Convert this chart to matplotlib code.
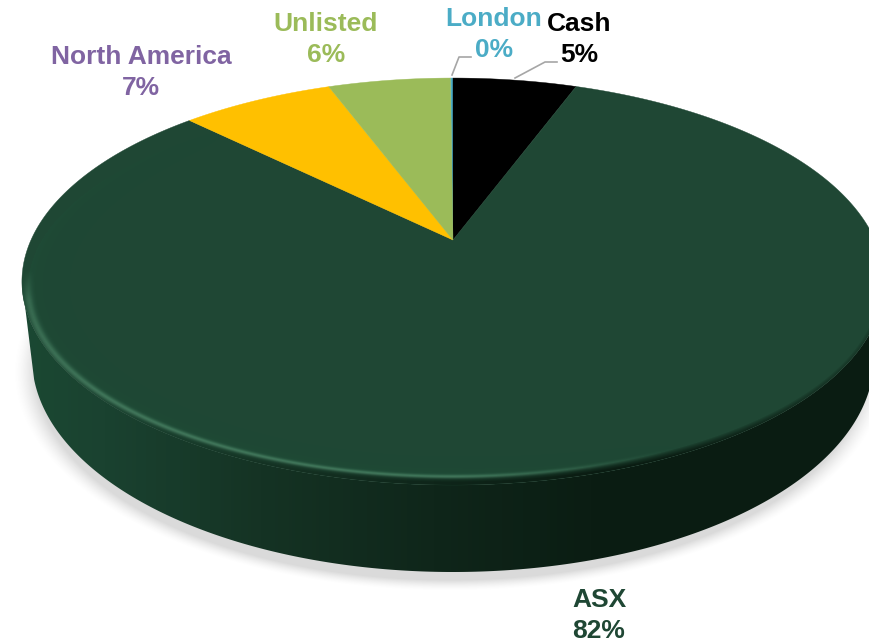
"""Perspective 3D pie of holdings by listing venue. Axes are in image pixels."""
import numpy as np
import matplotlib
matplotlib.use("Agg")
from matplotlib import pyplot as plt
from matplotlib.colors import LinearSegmentedColormap
from matplotlib.patches import Polygon

# clockwise from 12 o'clock
names = ["London", "Cash", "ASX", "North America", "Unlisted"]
shares = [0.12, 5.65, 81.7, 6.95, 5.58]
pct_labels = ["0%", "5%", "82%", "7%", "6%"]
wedge_colors = ["#4BACC6", "#000000", "#1F4734", "#FFC000", "#9BBB59"]
label_colors = ["#4BACC6", "#000000", "#1F4734", "#8064A2", "#9BBB59"]
label_xy = [(494, 19), (579, 24), (599, 600), (141, 57), (326, 24)]

W, H = 869, 644
APEX_X, APEX_Y = 453, 240
P_X, P_Y, K = 422, 195, 0.204      # perspective of the top face
START = -0.0012                    # London sliver sits just left of 12 o'clock
TOP_C, TOP_A, TOP_B = (453, 281.5), 431, 203.5
BOT_C, BOT_A, BOT_B = (453, 358), 421, 214


def project(x, y):
    return APEX_X + P_X * x / (1 + K * y), APEX_Y - P_Y * y / (1 + K * y)


def ellipse(c, a, b, t):
    return c[0] + a * np.cos(t), c[1] + b * np.sin(t)


fig = plt.figure(figsize=(W / 100, H / 100), dpi=100)
ax = fig.add_axes([0, 0, 1, 1])
extent = (0, W, H, 0)
yy, xx = np.mgrid[0:H, 0:W] + 0.5

# soft shadow under the disc
r = np.hypot((xx - 450) / 436, (yy - 372) / 219)
shadow = np.zeros((H, W, 4))
shadow[..., :3] = 0.62
shadow[..., 3] = np.clip((1 - r) / 0.05, 0, 1) ** 1.5 * 0.38
ax.imshow(shadow, extent=extent, zorder=1, aspect="auto")

# side wall: horizontal gradient clipped to the disc silhouette
t_bot = np.linspace(0.1, np.pi - 0.1, 300)
t_top = np.linspace(0, np.pi, 300)
side_cmap = LinearSegmentedColormap.from_list(
    "side", [(0, "#1B4A33"), (0.12, "#1A4230"), (0.3, "#153324"),
             (0.5, "#0F261A"), (0.68, "#0B1D13"), (1, "#0A1C12")])
side_rgba = side_cmap(xx / W)
side = ax.imshow(side_rgba, extent=extent, zorder=2, aspect="auto")
sil = Polygon(np.r_[np.c_[ellipse(BOT_C, BOT_A, BOT_B, t_bot)],
                    np.c_[ellipse(TOP_C, TOP_A, TOP_B, t_top)][::-1]],
              transform=ax.transData, fc="none", ec="none")
ax.add_patch(sil)
side.set_clip_path(sil)

# top face wedges
edges = (np.r_[0, np.cumsum(shares)] / np.sum(shares) + START) * 2 * np.pi
polys = {}
for name, a0, a1, col in zip(names, edges[:-1], edges[1:], wedge_colors):
    th = np.linspace(a0, a1, max(int((a1 - a0) * 120), 4))
    px, py = project(np.sin(th), np.cos(th))
    verts = np.r_[[(APEX_X, APEX_Y)], np.c_[px, py]]
    polys[name] = ax.fill(verts[:, 0], verts[:, 1], color=col, lw=0.3, zorder=3)[0]

# bevel on the big slice: the ridge ellipse sits a little inside the rim
g = np.hypot((xx - 453) / 425, (yy - 288) / 188.5)
t = np.arctan2(yy - 288, xx - 453)
lit = np.clip(np.cos(t - np.radians(125)) * 1.25, 0, 1)
front = np.clip((yy - 270) / 30, 0, 1)
glow = np.exp(-((g - 1) / 0.010) ** 2) * lit * front * 0.5
wide = np.exp(np.minimum(g - 1, 0) / 0.025) * (g < 1) * lit * 0.28
bevel = np.zeros((H, W, 4))
bevel[..., :3] = (0.38, 0.62, 0.49)
bevel[..., 3] = glow
wide_rgba = np.zeros((H, W, 4))
wide_rgba[..., :3] = (0.11, 0.36, 0.24)
wide_rgba[..., 3] = wide

# below the ridge the face rolls over into the side colour
roll = side_rgba.copy()
roll[..., 3] = np.clip((g - 1) / 0.03, 0, 1) ** 0.8 * front
for img, z in [(wide_rgba, 4), (roll, 5), (bevel, 6)]:
    im = ax.imshow(img, extent=extent, zorder=z, aspect="auto")
    im.set_clip_path(polys["ASX"])

ax.set_xlim(0, W)
ax.set_ylim(H, 0)
ax.axis("off")

# leader lines
leader_x = [[452, 459, 471], [515, 545, 557]]
leader_y = [[75, 57, 57], [78, 62, 62]]
for lx, ly in zip(leader_x, leader_y):
    ax.plot(lx, ly, color="#A6A6A6", lw=1.2, zorder=7)

for name, pct, col, (x, y) in zip(names, pct_labels, label_colors, label_xy):
    for s, ty in [(name, y), (pct, y + 31)]:
        ax.text(x, ty, s, color=col, ha="center", va="center",
                family="Liberation Sans", weight="bold", fontsize=19, zorder=8)

fig.savefig("out.png", dpi=100)
